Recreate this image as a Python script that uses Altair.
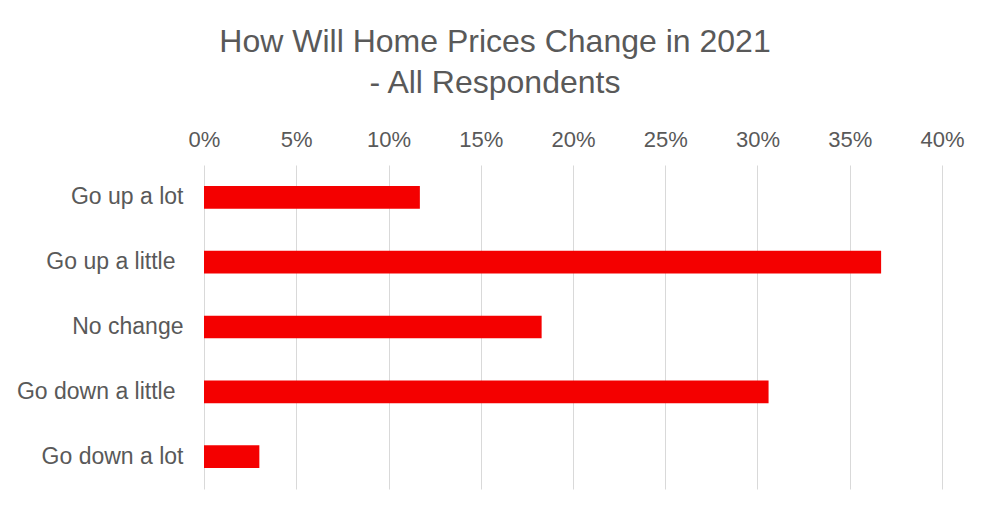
import altair as alt
import pandas as pd

categories = ["Go up a lot", "Go up a little", "No change", "Go down a little", "Go down a lot"]
shares = [0.117, 0.367, 0.183, 0.306, 0.030]
tick_values = [0, 0.05, 0.1, 0.15, 0.2, 0.25, 0.3, 0.35, 0.4]

df = pd.DataFrame({"category": categories, "share": shares})

FONT = "Liberation Sans"
GRAY = "#595959"

chart = alt.Chart(df).mark_bar(color="#F40000").encode(
    x=alt.X(
        "share:Q",
        scale=alt.Scale(domain=[0, 0.4], nice=False),
        axis=alt.Axis(
            orient="top",
            format=".0%",
            values=tick_values,
            title=None,
            domain=False,
            ticks=False,
            tickSize=0,
            labelPadding=19,
            labelBaseline="alphabetic",
            labelFlush=False,
            labelFont=FONT,
            labelFontSize=22,
            labelColor=GRAY,
            grid=True,
            gridColor="#D9D9D9",
            gridWidth=1,
        ),
    ),
    y=alt.Y(
        "category:N",
        sort=categories,
        scale=alt.Scale(paddingInner=0.65, paddingOuter=0.325),
        axis=alt.Axis(
            title=None,
            domain=False,
            ticks=False,
            labelPadding={
                "condition": {"test": "indexof(datum.label, 'little') >= 0", "value": 29},
                "value": 21,
            },
            labelFont=FONT,
            labelFontSize=23,
            labelColor=GRAY,
        ),
    ),
).properties(
    width=738,
    height=324,
    background="white",
    autosize=alt.AutoSizeParams(type="none"),
    padding={"left": 196, "top": 157, "right": 44, "bottom": 20},
    title=alt.Title(
        ["How Will Home Prices Change in 2021", "- All Respondents"],
        anchor="middle",
        frame="group",
        dx=-78,
        font=FONT,
        fontSize=32,
        fontWeight="normal",
        color=GRAY,
        lineHeight=41,
        offset=28,
    ),
).configure_view(strokeWidth=0, stroke=None)

chart.save("out.html", embed_options={"renderer": "svg", "actions": False})
